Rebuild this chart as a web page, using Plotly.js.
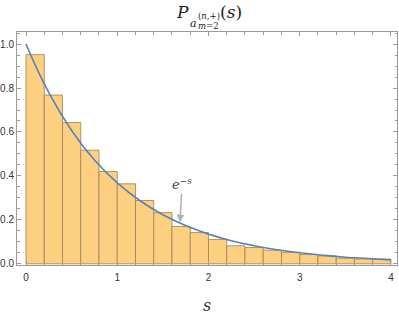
<!DOCTYPE html>
<html>
<head>
<meta charset="utf-8">
<script src="https://cdn.plot.ly/plotly-3.0.1.min.js"></script>
<style>html,body{margin:0;padding:0;background:#fff;}#chart{width:399px;height:315px;}</style>
</head>
<body>
<div id="chart"></div>
<script>
// Histogram bins (width 0.2) and heights
var binCenters = [0.1,0.3,0.5,0.7,0.9,1.1,1.3,1.5,1.7,1.9,2.1,2.3,2.5,2.7,2.9,3.1,3.3,3.5,3.7,3.9];
var binHeights = [0.952,0.768,0.643,0.517,0.420,0.364,0.288,0.233,0.170,0.142,0.111,0.082,0.074,0.062,0.052,0.042,0.036,0.025,0.022,0.021];
var binWidth = 0.2;

// Reference curve e^{-s}
var curveS = [0,0.25,0.5,0.75,1,1.25,1.5,1.75,2,2.25,2.5,2.75,3,3.25,3.5,3.75,4];
var curveP = [1.000,0.779,0.607,0.472,0.368,0.287,0.223,0.174,0.135,0.105,0.082,0.064,0.050,0.039,0.030,0.024,0.018];

var xTickVals = [0,1,2,3,4];
var xTickText = ['0','1','2','3','4'];
var yTickVals = [0,0.2,0.4,0.6,0.8,1.0];
var yTickText = ['0.0','0.2','0.4','0.6','0.8','1.0'];

var traces = [
  {
    type: 'bar', x: binCenters, y: binHeights, width: binWidth,
    marker: {color: '#FDCF80', line: {color: 'rgba(165,135,85,0.85)', width: 1}},
    hoverinfo: 'skip'
  },
  {
    type: 'scatter', mode: 'lines', x: curveS, y: curveP,
    line: {color: '#5E81B5', width: 1.6, shape: 'spline', smoothing: 1.3},
    hoverinfo: 'skip'
  }
];

var serif = "'DejaVu Serif', serif";
var axisCommon = {
  showgrid: false, zeroline: false, showline: true, linecolor: '#9a9a9a', linewidth: 1,
  mirror: 'allticks', ticks: 'inside', ticklen: 4, tickcolor: '#9a9a9a', tickwidth: 1,
  tickfont: {family: "'Liberation Sans', Arial, sans-serif", size: 10, color: '#333'}
};

// paper coordinate helpers (plot area: left 17, width 380, bottom 265, height 233)
function px(v){ return (v - 17) / 380; }
function py(v){ return (265 - v) / 233; }

var layout = {
  width: 399, height: 315,
  margin: {l: 17, r: 2, t: 32, b: 50},
  paper_bgcolor: '#fff', plot_bgcolor: '#fff',
  showlegend: false, bargap: 0,
  xaxis: Object.assign({}, axisCommon, {
    range: [-0.0986, 4.066], tickvals: xTickVals, ticktext: xTickText,
    ticklabelstandoff: 3,
    minor: {dtick: 0.2, ticks: 'inside', ticklen: 2.5, tickcolor: '#9a9a9a', showgrid: false},
    title: {text: '<i>s</i>', font: {family: serif, size: 16, color: '#333'}, standoff: 17}
  }),
  yaxis: Object.assign({}, axisCommon, {
    range: [-0.0055, 1.055], tickvals: yTickVals, ticktext: yTickText,
    minor: {dtick: 0.05, ticks: 'inside', ticklen: 2.5, tickcolor: '#9a9a9a', showgrid: false}
  }),
  annotations: [
    {xref: 'paper', yref: 'paper', x: px(182.5), y: py(12.5), text: '<i>P</i>', showarrow: false,
     xanchor: 'center', yanchor: 'middle', font: {family: serif, size: 17, color: '#222'}},
    {xref: 'paper', yref: 'paper', x: px(193), y: py(23), text: '<i>a</i>', showarrow: false,
     xanchor: 'center', yanchor: 'middle', font: {family: serif, size: 11, color: '#222'}},
    {xref: 'paper', yref: 'paper', x: px(209), y: py(15.5), text: '(<i>n</i>,+)', showarrow: false,
     xanchor: 'center', yanchor: 'middle', font: {family: serif, size: 8.5, color: '#222'}},
    {xref: 'paper', yref: 'paper', x: px(208.5), y: py(26), text: '<i>m</i>=2', showarrow: false,
     xanchor: 'center', yanchor: 'middle', font: {family: serif, size: 8.5, color: '#222'}},
    {xref: 'paper', yref: 'paper', x: px(231), y: py(12.5), text: '(<i>s</i>)', showarrow: false,
     xanchor: 'center', yanchor: 'middle', font: {family: serif, size: 17, color: '#222'}},
    {xref: 'x', yref: 'y', x: 1.688, y: 0.189, text: '<i>e</i><sup>\u2212<i>s</i></sup>',
     showarrow: true, arrowhead: 2, arrowsize: 1, arrowwidth: 1.5, arrowcolor: '#b0b0b0',
     ax: 2, ay: -38, font: {family: serif, size: 13, color: '#444'}}
  ]
};

Plotly.newPlot('chart', traces, layout, {staticPlot: true, displayModeBar: false});
</script>
</body>
</html>
